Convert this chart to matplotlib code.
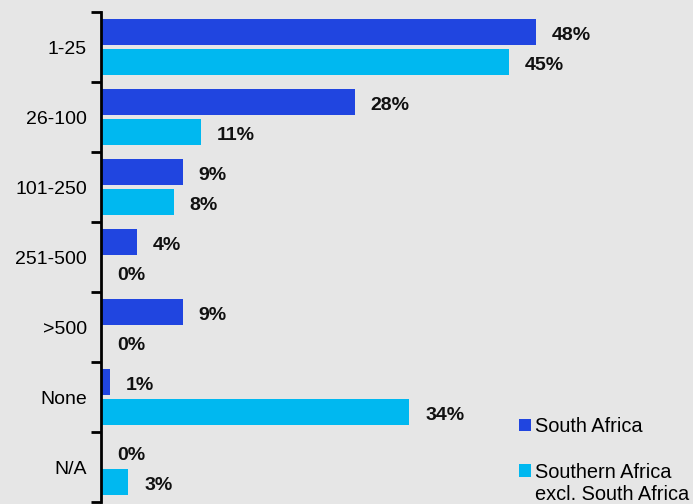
import matplotlib.pyplot as plt
import numpy as np

plt.rcParams['font.family'] = ['Liberation Sans', 'DejaVu Sans']

categories = ['1-25', '26-100', '101-250', '251-500', '>500', 'None', 'N/A']
south_africa = [48, 28, 9, 4, 9, 1, 0]
southern_excl = [45, 11, 8, 0, 0, 34, 3]
series_names = ['South Africa', 'Southern Africa']

bg = '#E6E6E6'
dark = '#2045E0'
light = '#00B8F0'

fig = plt.figure(figsize=(6.93, 5.04), dpi=100, facecolor=bg)
ax = fig.add_axes([101/693, 2/504, 592/693, 490/504])
ax.set_facecolor(bg)

y = np.arange(len(categories))
h = 0.38
b1 = ax.barh(y - 0.212, south_africa, height=h, color=dark, label=series_names[0])
b2 = ax.barh(y + 0.212, southern_excl, height=h, color=light, label=series_names[1])

for bars, vals in ((b1, south_africa), (b2, southern_excl)):
    for bar, v in zip(bars, vals):
        ax.text(v + 1.75, bar.get_y() + bar.get_height()/2 + 0.02, f'{v}%',
                va='center_baseline', ha='left', fontsize=14, fontweight='bold', color='#111111')

ax.set_ylim(len(categories) - 0.5, -0.5)
ax.set_xlim(0, 65.3)
ax.set_yticks(y)
ax.set_yticklabels(categories, fontsize=14)
ax.tick_params(axis='y', length=0, pad=10)
ax.set_yticks(np.arange(-0.5, len(categories)), minor=True)
ax.tick_params(axis='y', which='minor', length=7, width=2, direction='out')
ax.set_xticks([])
for s in ['top', 'right', 'bottom']:
    ax.spines[s].set_visible(False)
ax.spines['left'].set_linewidth(2)

leg = ax.legend(loc='upper left', bbox_to_anchor=(519/693, 1 - 417/504),
                bbox_transform=fig.transFigure, frameon=False, borderpad=0,
                borderaxespad=0, fontsize=14.4, handlelength=0.58, handleheight=0.58,
                handletextpad=0.2, labelspacing=1.33)
fig.text(535/693, 1 - 495/504, 'excl. South Africa', fontsize=14.4,
         va='center', ha='left')

fig.savefig('out.png', dpi=100, facecolor=bg)
